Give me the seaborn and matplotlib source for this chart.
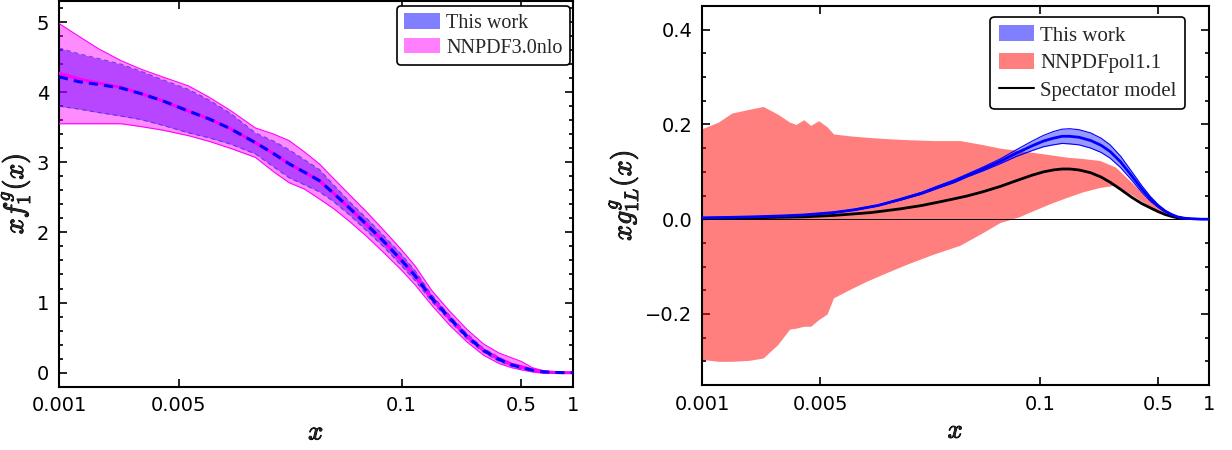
import numpy as np
import pandas as pd
import matplotlib
matplotlib.use('Agg')
import matplotlib.pyplot as plt
import matplotlib.patheffects as pe
import seaborn as sns
from matplotlib.patches import Patch
from matplotlib.lines import Line2D
from matplotlib.ticker import FixedLocator, NullLocator, MultipleLocator, FixedFormatter, FuncFormatter

sns.set_style('ticks')
plt.rcParams['font.family'] = ['DejaVu Sans']
plt.rcParams['mathtext.fontset'] = 'cm'

# ---------------- Left panel data: x f_1^g(x) ----------------
x_left = [0.001, 0.0013, 0.0017, 0.0023, 0.003, 0.004, 0.0057, 0.0075, 0.01, 0.014,
          0.018, 0.022, 0.027, 0.033, 0.04, 0.05, 0.062, 0.078, 0.1, 0.12, 0.15,
          0.19, 0.24, 0.3, 0.37, 0.44, 0.5, 0.58, 0.67, 0.78, 0.9, 1.0]
work_f1_central = [4.22, 4.15, 4.11, 4.06, 3.98, 3.88, 3.73, 3.62, 3.48, 3.28,
                   3.12, 2.98, 2.86, 2.74, 2.56, 2.34, 2.12, 1.88, 1.60, 1.38, 1.06,
                   0.78, 0.52, 0.32, 0.19, 0.11, 0.075, 0.035, 0.012, 0.003, 0.0, 0.0]
work_f1_upper = [4.63, 4.55, 4.48, 4.40, 4.30, 4.18, 4.04, 3.89, 3.70, 3.42,
                 3.30, 3.18, 3.04, 2.90, 2.68, 2.43, 2.21, 1.96, 1.68, 1.45, 1.11,
                 0.82, 0.56, 0.35, 0.22, 0.13, 0.095, 0.045, 0.018, 0.005, 0.0, 0.0]
work_f1_lower = [3.80, 3.76, 3.71, 3.66, 3.61, 3.53, 3.42, 3.35, 3.26, 3.12,
                 2.93, 2.78, 2.68, 2.58, 2.44, 2.24, 2.03, 1.80, 1.52, 1.31, 1.01,
                 0.74, 0.48, 0.29, 0.16, 0.09, 0.055, 0.025, 0.006, 0.001, 0.0, 0.0]
nnpdf_f1_central = [4.27, 4.19, 4.13, 4.07, 3.98, 3.88, 3.73, 3.62, 3.48, 3.28,
                    3.12, 2.98, 2.86, 2.74, 2.56, 2.34, 2.12, 1.88, 1.60, 1.38, 1.06,
                    0.78, 0.52, 0.32, 0.20, 0.12, 0.085, 0.04, 0.012, 0.003, 0.0, 0.0]
nnpdf_f1_upper = [4.98, 4.80, 4.62, 4.45, 4.33, 4.22, 4.09, 3.93, 3.74, 3.49,
                  3.40, 3.31, 3.15, 2.98, 2.77, 2.53, 2.30, 2.04, 1.75, 1.52, 1.17,
                  0.88, 0.62, 0.41, 0.28, 0.21, 0.16, 0.07, 0.03, 0.01, 0.0, 0.0]
nnpdf_f1_lower = [3.55, 3.55, 3.55, 3.55, 3.51, 3.46, 3.38, 3.30, 3.20, 3.07,
                  2.86, 2.71, 2.62, 2.48, 2.34, 2.15, 1.95, 1.72, 1.46, 1.25, 0.96,
                  0.68, 0.44, 0.25, 0.13, 0.07, 0.04, 0.01, -0.01, -0.01, 0.0, 0.0]

# ---------------- Right panel data: x g_{1L}^g(x) ----------------
x_nnpdf_pol = [0.001, 0.00125, 0.0015, 0.0019, 0.0023, 0.0028, 0.0033, 0.0036,
               0.0040, 0.0044, 0.0049, 0.0055, 0.006, 0.0075, 0.0094, 0.0125,
               0.0163, 0.0233, 0.0336, 0.045, 0.058, 0.075, 0.0912, 0.115,
               0.144, 0.18, 0.226, 0.28, 0.355, 0.43, 0.51, 0.56]
nnpdf_pol_upper = [0.191, 0.205, 0.224, 0.232, 0.238, 0.222, 0.205, 0.200,
                   0.210, 0.198, 0.208, 0.195, 0.180, 0.176, 0.173, 0.170,
                   0.168, 0.166, 0.166, 0.158, 0.150, 0.145, 0.141, 0.136,
                   0.131, 0.128, 0.124, 0.110, 0.075, 0.045, 0.025, 0.010]
nnpdf_pol_lower = [-0.296, -0.300, -0.300, -0.298, -0.293, -0.265, -0.232, -0.230,
                   -0.226, -0.226, -0.212, -0.200, -0.166, -0.148, -0.131, -0.112,
                   -0.095, -0.074, -0.055, -0.030, -0.007, 0.005, 0.018, 0.033,
                   0.046, 0.058, 0.067, 0.072, 0.050, 0.030, 0.015, 0.008]

x_work_g1 = [0.001, 0.0015, 0.002, 0.003, 0.004, 0.006, 0.008, 0.011, 0.015, 0.02,
             0.025, 0.031, 0.037, 0.046, 0.058, 0.072, 0.09, 0.105, 0.12, 0.135,
             0.15, 0.17, 0.2, 0.23, 0.26, 0.3, 0.35, 0.4, 0.45, 0.5, 0.55, 0.6,
             0.65, 0.72, 0.8, 0.9, 1.0]
work_g1_central = [0.003, 0.004, 0.005, 0.007, 0.009, 0.014, 0.020, 0.029, 0.042, 0.055,
                   0.068, 0.080, 0.092, 0.106, 0.122, 0.139, 0.155, 0.165, 0.171, 0.175,
                   0.175, 0.173, 0.166, 0.156, 0.143, 0.121, 0.091, 0.064, 0.043, 0.028,
                   0.017, 0.010, 0.005, 0.002, 0.001, 0.0, 0.0]
work_g1_upper = [0.0033, 0.0043, 0.0053, 0.0074, 0.0095, 0.0147, 0.021, 0.030, 0.0435,
                 0.057, 0.0705, 0.083, 0.095, 0.110, 0.127, 0.146, 0.165, 0.177, 0.185,
                 0.190, 0.191, 0.189, 0.182, 0.171, 0.157, 0.133, 0.100, 0.071, 0.048,
                 0.031, 0.019, 0.011, 0.0055, 0.0022, 0.001, 0.0, 0.0]
work_g1_lower = [0.0027, 0.0037, 0.0047, 0.0066, 0.0085, 0.0133, 0.019, 0.028, 0.0405,
                 0.053, 0.0655, 0.077, 0.089, 0.102, 0.117, 0.132, 0.145, 0.153, 0.157,
                 0.160, 0.159, 0.157, 0.150, 0.141, 0.129, 0.109, 0.082, 0.057, 0.038,
                 0.025, 0.015, 0.009, 0.0045, 0.0018, 0.0009, 0.0, 0.0]

x_spectator = [0.001, 0.002, 0.004, 0.006, 0.01, 0.015, 0.02, 0.025, 0.031, 0.037,
               0.046, 0.058, 0.072, 0.09, 0.105, 0.12, 0.135, 0.15, 0.17, 0.2, 0.23,
               0.26, 0.3, 0.35, 0.4, 0.45, 0.5, 0.55, 0.6, 0.65, 0.7]
spectator_g1 = [0.001, 0.003, 0.005, 0.008, 0.014, 0.022, 0.029, 0.036, 0.043, 0.049,
                0.058, 0.069, 0.081, 0.093, 0.100, 0.104, 0.106, 0.106, 0.104, 0.098,
                0.089, 0.078, 0.063, 0.046, 0.033, 0.024, 0.016, 0.010, 0.006, 0.003,
                0.002]

x_ticks = [0.001, 0.005, 0.1, 0.5, 1.0]
x_ticklabels = ['0.001', '0.005', '0.1', '0.5', '1']

# ---------------- Figure ----------------
fig = plt.figure(figsize=(12.32, 4.5), dpi=100)
ax1 = fig.add_axes([0.0479, 0.1407, 0.4172, 0.857])
ax2 = fig.add_axes([0.5698, 0.1444, 0.4115, 0.8422])

for ax in (ax1, ax2):
    ax.set_xscale('log')


def line(ax, x, y, **kw):
    sns.lineplot(x=x, y=y, ax=ax, estimator=None, sort=False, **kw)


# Left panel
ax1.fill_between(x_left, work_f1_lower, work_f1_upper, color=(0, 0, 1), alpha=0.5,
                 lw=0, zorder=1)
ax1.fill_between(x_left, nnpdf_f1_lower, nnpdf_f1_upper, color=(1, 0, 1), alpha=0.45,
                 lw=0, zorder=2)
line(ax1, x_left, nnpdf_f1_upper, color='#ff00ff', lw=0.8, zorder=3)
line(ax1, x_left, nnpdf_f1_lower, color='#ff00ff', lw=0.8, zorder=3)
line(ax1, x_left, work_f1_upper, color='#3030d0', lw=0.8, linestyle=(0, (4, 3)),
     zorder=3, alpha=0.7)
line(ax1, x_left, work_f1_lower, color='#3030d0', lw=0.8, linestyle=(0, (4, 3)),
     zorder=3, alpha=0.7)
line(ax1, x_left, nnpdf_f1_central, color='#ff00ff', lw=2.2, zorder=4)
line(ax1, x_left, work_f1_central, color='#0000ff', lw=2.2, linestyle=(0, (3, 2)),
     zorder=5)

ax1.set_xlim(0.001, 1.0)
ax1.set_ylim(-0.2, 5.3)
ax1.yaxis.set_major_locator(MultipleLocator(1))
ax1.yaxis.set_minor_locator(MultipleLocator(0.2))
ax1.set_ylabel(r'$xf_1^g(x)$', fontsize=20, labelpad=3)

h1 = [Patch(facecolor=(0, 0, 1, 0.5), edgecolor='none'),
      Patch(facecolor=(1, 0, 1, 0.5), edgecolor='none')]
leg1 = ax1.legend(h1, ['This work', 'NNPDF3.0nlo'], loc='upper right',
                  bbox_to_anchor=(0.994, 0.987), borderaxespad=0,
                  prop={'family': 'Liberation Serif', 'size': 14.5},
                  frameon=True, fancybox=True, framealpha=1, edgecolor='black',
                  handlelength=1.8, handleheight=0.8, handletextpad=0.3,
                  borderpad=0.35, labelspacing=0.25)
leg1.get_frame().set_linewidth(1.2)

# Right panel
ax2.fill_between(x_nnpdf_pol, nnpdf_pol_lower, nnpdf_pol_upper, color=(1, 0, 0),
                 alpha=0.5, lw=0, zorder=1)
ax2.fill_between(x_work_g1, work_g1_lower, work_g1_upper, color=(0, 0, 1), alpha=0.4,
                 lw=0, zorder=2)
line(ax2, x_work_g1, work_g1_upper, color='#0000ff', lw=0.8, zorder=3)
line(ax2, x_work_g1, work_g1_lower, color='#0000ff', lw=0.8, zorder=3)
ax2.axhline(0, color='black', lw=0.7, zorder=3)
line(ax2, x_spectator, spectator_g1, color='black', lw=2.0, zorder=4)
line(ax2, x_work_g1, work_g1_central, color='#0000ff', lw=2.0, zorder=5)

ax2.set_xlim(0.001, 1.0)
ax2.set_ylim(-0.35, 0.45)
ax2.yaxis.set_major_locator(MultipleLocator(0.2))
ax2.yaxis.set_minor_locator(MultipleLocator(0.05))
ax2.yaxis.set_major_formatter(FuncFormatter(
    lambda v, p: ('%.1f' % v).replace('-', '\u2212') if abs(v) > 1e-9 else '0.0'))
ax2.set_ylabel(r'$xg_{1L}^g(x)$', fontsize=20, labelpad=3)

h2 = [Patch(facecolor=(0, 0, 1, 0.5), edgecolor='none'),
      Patch(facecolor=(1, 0, 0, 0.5), edgecolor='none'),
      Line2D([0], [0], color='black', lw=1.5)]
leg2 = ax2.legend(h2, ['This work', 'NNPDFpol1.1', 'Spectator model'], loc='upper right',
                  bbox_to_anchor=(0.953, 0.971), borderaxespad=0,
                  prop={'family': 'Liberation Serif', 'size': 15},
                  frameon=True, fancybox=True, framealpha=1, edgecolor='black',
                  handlelength=1.7, handleheight=0.8, handletextpad=0.3,
                  borderpad=0.4, labelspacing=0.35)
leg2.get_frame().set_linewidth(1.2)

stroke = [pe.withStroke(linewidth=0.7, foreground='black')]
for ax in (ax1, ax2):
    ax.xaxis.set_major_locator(FixedLocator(x_ticks))
    ax.xaxis.set_major_formatter(FixedFormatter(x_ticklabels))
    ax.xaxis.set_minor_locator(NullLocator())
    ax.tick_params(which='both', direction='in', top=True, right=True,
                   labelsize=14, width=1.2, colors='black')
    ax.tick_params(which='major', length=6, pad=7)
    ax.tick_params(which='minor', length=3)
    for s in ax.spines.values():
        s.set_linewidth(1.5)
        s.set_color('black')
    ax.set_xlabel(r'$x$', fontsize=19, labelpad=3)
    ax.xaxis.label.set_path_effects(stroke)
    ax.yaxis.label.set_path_effects(stroke)

fig.savefig('out.png', dpi=100)
